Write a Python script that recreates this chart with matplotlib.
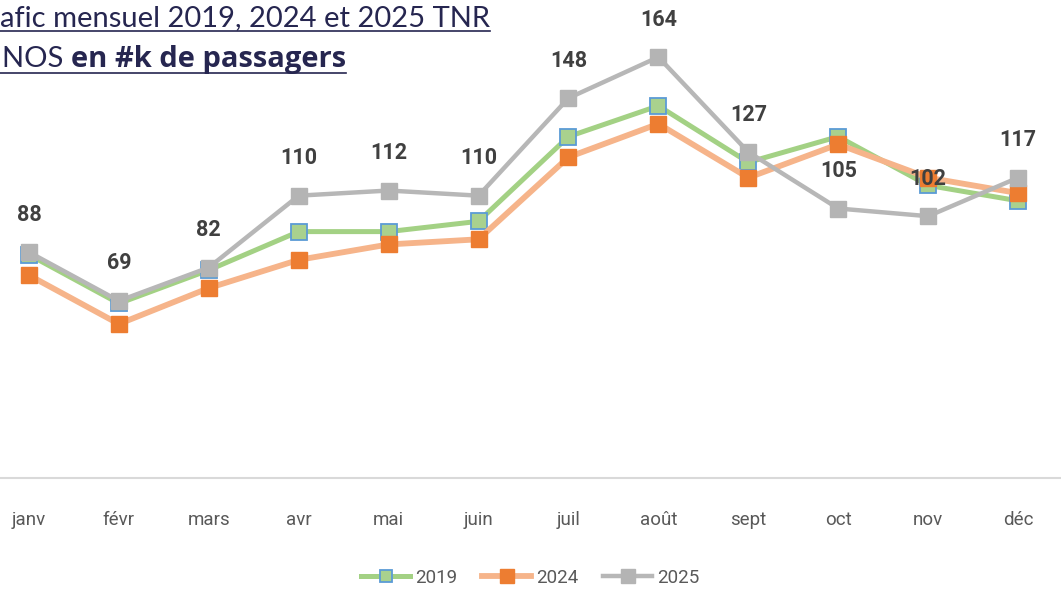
import matplotlib.pyplot as plt
from matplotlib.lines import Line2D

months = ["janv", "févr", "mars", "avr", "mai", "juin",
          "juil", "août", "sept", "oct", "nov", "déc"]
traffic_2019 = [87, 68, 81, 96, 96, 100, 133, 145, 123, 133, 114, 108]
traffic_2024 = [79, 60, 74, 85, 91, 93, 125, 138, 117, 130, 117, 111]
traffic_2025 = [88, 69, 82, 110, 112, 110, 148, 164, 127, 105, 102, 117]

NARROW = ["Roboto", "DejaVu Sans"]
TITLE_FONT = ["Lato", "DejaVu Sans"]
BOLD_FONT = ["Open Sans", "DejaVu Sans"]
NAVY = "#262650"

fig = plt.figure(figsize=(10.61, 5.91), dpi=100)
# axes slightly wider than the figure: the left part is cropped in the reference
ax = fig.add_axes([-16 / 1061, 113 / 591, 1079 / 1061, 462 / 591])

x = list(range(len(months)))

ax.plot(x, traffic_2019, color="#a3d184", lw=3.6, marker="s", ms=11,
        mfc="#a9d18e", mec="#5b9bd5", mew=1.3, label="2019", zorder=3)
ax.plot(x, traffic_2024, color="#f6b48a", lw=4.2, marker="s", ms=11.5,
        mfc="#ed7d31", mec="#ed7d31", label="2024", zorder=4)
ax.plot(x, traffic_2025, color="#b7b7b7", lw=3.2, marker="s", ms=11.5,
        mfc="#b4b4b4", mec="#b4b4b4", label="2025", zorder=5)

for xi, v in zip(x, traffic_2025):
    ax.annotate(str(v), (xi, v), xytext=(0, 27), textcoords="offset points",
                ha="center", va="center", fontsize=15.5, fontweight="bold",
                color="#404040", family=NARROW, zorder=6)

ax.set_xlim(-0.5, 11.5)
ax.set_ylim(0, 180)
ax.set_xticks(x)
ax.set_xticklabels(months, family=NARROW, fontsize=13.5, color="#595959")
ax.tick_params(axis="x", length=0, pad=24)
ax.set_yticks([])
for side in ["left", "right", "top"]:
    ax.spines[side].set_visible(False)
ax.spines["bottom"].set_color("#d9d9d9")
ax.spines["bottom"].set_linewidth(1.5)

leg = fig.legend(loc="center", bbox_to_anchor=(0.5, 13 / 591), ncol=3,
                 frameon=False, handlelength=2.6, columnspacing=1.3,
                 handletextpad=0.3, markerscale=0.85,
                 prop={"family": NARROW, "size": 13.5})
for t in leg.get_texts():
    t.set_color("#595959")

# title, cropped at the left in the reference, with underlines
renderer = fig.canvas.get_renderer()
t1 = fig.text(0.0, 1 - 26 / 591, "afic mensuel 2019, 2024 et 2025 TNR",
              fontsize=21, fontweight="normal", family=TITLE_FONT, color=NAVY,
              ha="left", va="baseline")
t2a = fig.text(2 / 1061, 1 - 67 / 591, "NOS ", fontsize=21,
               fontweight="normal", family=TITLE_FONT, color=NAVY,
               ha="left", va="baseline")
bb = t2a.get_window_extent(renderer)
t2b = fig.text(bb.x1 / 1061, 1 - 67 / 591, "en #k de passagers", fontsize=21,
               fontweight="bold", family=BOLD_FONT, color=NAVY,
               ha="left", va="baseline")

b1 = t1.get_window_extent(renderer)
b2 = t2b.get_window_extent(renderer)
fig.add_artist(Line2D([0, b1.x1 / 1061], [1 - 31 / 591] * 2, color=NAVY, lw=1.2))
fig.add_artist(Line2D([0, b2.x1 / 1061], [1 - 73 / 591] * 2, color=NAVY, lw=1.2))

fig.savefig("out.png", dpi=100)
